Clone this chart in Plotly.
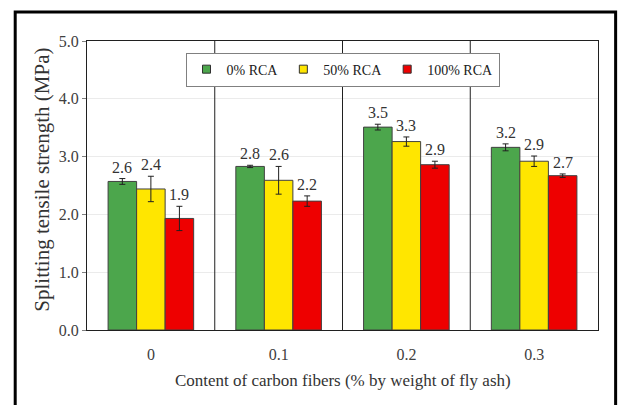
import plotly.graph_objects as go

categories = ["0", "0.1", "0.2", "0.3"]
series_names = ["0% RCA", "50% RCA", "100% RCA"]
rca0 = [2.57, 2.83, 3.51, 3.16]
rca50 = [2.44, 2.59, 3.26, 2.92]
rca100 = [1.93, 2.23, 2.86, 2.67]
err0 = [0.05, 0.02, 0.05, 0.06]
err50 = [0.22, 0.24, 0.08, 0.09]
err100 = [0.21, 0.09, 0.06, 0.03]
labels0 = ["2.6", "2.8", "3.5", "3.2"]
labels50 = ["2.4", "2.6", "3.3", "2.9"]
labels100 = ["1.9", "2.2", "2.9", "2.7"]
y_ticks = [0, 1, 2, 3, 4, 5]

colors = ["#4CA64C", "#FFE600", "#EE0000"]
values = [rca0, rca50, rca100]
errors = [err0, err50, err100]
labels = [labels0, labels50, labels100]

FONT = "Liberation Serif"
BARGAP = 0.33

fig = go.Figure()
for name, vals, errs, col in zip(series_names, values, errors, colors):
    fig.add_trace(go.Bar(
        x=categories, y=vals, name=name,
        marker=dict(color=col, line=dict(color="#404040", width=1)),
        error_y=dict(type="data", array=errs, visible=True,
                     color="#202020", thickness=1, width=3),
        showlegend=False,
    ))
    fig.add_trace(go.Scatter(
        x=[None], y=[None], mode="markers", name=name,
        marker=dict(symbol="square", size=8, color=col,
                    line=dict(color="#303030", width=1)),
        showlegend=True,
    ))

bw = (1 - BARGAP) / 3
annotations = []
for j, (vals, errs, labs) in enumerate(zip(values, errors, labels)):
    for i, (v, e, t) in enumerate(zip(vals, errs, labs)):
        annotations.append(dict(
            x=i + (j - 1) * bw, y=v + e, xref="x", yref="y",
            text=t, showarrow=False, yanchor="bottom", yshift=1,
            font=dict(family=FONT, size=16, color="#333333"),
        ))

annotations.append(dict(
    x=-0.1155, y=0.52, xref="paper", yref="paper",
    text="Splitting tensile strength (MPa)", textangle=-90,
    showarrow=False, font=dict(family=FONT, size=21, color="#333333"),
))
annotations.append(dict(
    x=0.5, y=-0.175, xref="paper", yref="paper", yanchor="middle",
    text="Content of carbon fibers (% by weight of fly ash)",
    showarrow=False, font=dict(family=FONT, size=17, color="#333333"),
))

shapes = []
for xv in [0.5, 1.5, 2.5]:
    shapes.append(dict(type="line", xref="x", yref="paper", x0=xv, x1=xv,
                       y0=0, y1=1, line=dict(color="#202020", width=1)))
shapes.append(dict(type="rect", xref="paper", yref="paper",
                   x0=-0.1405, x1=1.0345, y0=-0.35, y1=1.1,
                   line=dict(color="black", width=3), layer="above"))

fig.update_layout(
    width=618, height=405,
    margin=dict(l=87, r=20, t=41, b=75),
    paper_bgcolor="white", plot_bgcolor="white",
    barmode="group", bargap=BARGAP, bargroupgap=0,
    font=dict(family=FONT, color="#404040"),
    legend=dict(orientation="h", x=0.5, xanchor="center", y=0.96, yanchor="top",
                bordercolor="#808080", borderwidth=1, bgcolor="white",
                font=dict(family=FONT, size=14, color="#202020"),
                itemwidth=30, tracegroupgap=0),
    annotations=annotations,
    shapes=shapes,
    xaxis=dict(type="category", showline=True, linecolor="#202020", linewidth=1,
               mirror=True, ticks="", ticklabelstandoff=10,
               tickfont=dict(family=FONT, size=16, color="#404040")),
    yaxis=dict(range=[0, 5], tickvals=y_ticks, tickformat=".1f",
               showgrid=True, gridcolor="#EBEBEB", gridwidth=1,
               showline=True, linecolor="#202020", linewidth=1, mirror=True,
               ticks="outside", ticklen=4, tickcolor="#808080",
               zeroline=False,
               tickfont=dict(family=FONT, size=16, color="#404040")),
)

fig.write_html("out.html")
